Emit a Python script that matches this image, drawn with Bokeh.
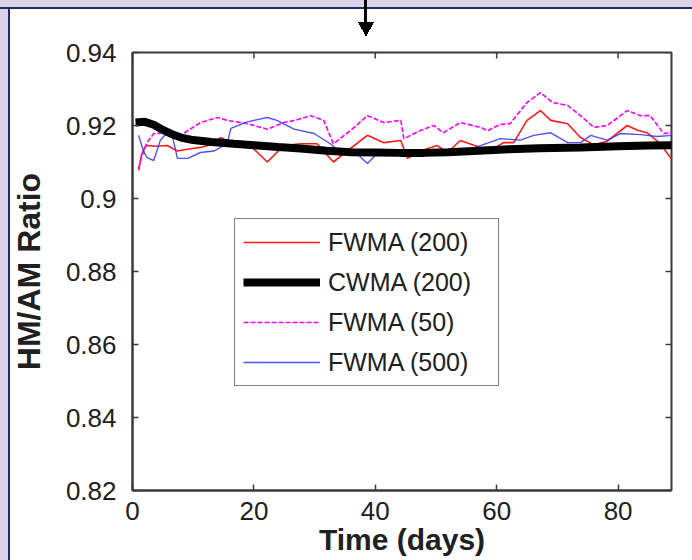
import math
from bokeh.plotting import figure
from bokeh.models import Range1d, FixedTicker, Legend, LegendItem
from bokeh.embed import file_html
from bokeh.resources import INLINE

# ---- data ----
cwma200_x = [0.5, 2, 3.5, 5, 6.5, 8, 10, 13, 16.7, 20, 24, 27.7, 32, 36, 40, 44,
             48, 52, 57, 62, 67, 73.8, 80, 85, 89]
cwma200_y = [0.9208, 0.921, 0.9202, 0.9188, 0.9176, 0.9167, 0.9160, 0.9155, 0.915,
             0.9146, 0.9141, 0.9137, 0.9131, 0.9127, 0.9126, 0.9125, 0.9125, 0.9127,
             0.9131, 0.9135, 0.9138, 0.914, 0.9143, 0.9145, 0.9146]

fwma200_x = [1, 1.5, 2.2, 4, 5.7, 7.4, 9, 11.2, 13, 14.5, 16.7, 19.4, 22.2, 24.9,
             27.7, 30.4, 33.1, 35.9, 38.7, 41.4, 44.2, 45.3, 47.4, 50.2, 51.9, 54,
             57.3, 58.5, 61.1, 62.8, 65, 67.2, 68.9, 71.7, 73.8, 76, 78.2, 81.5,
             83.2, 84.8, 87, 88.6, 89]
fwma200_y = [0.9077, 0.912, 0.9145, 0.9143, 0.9145, 0.913, 0.9135, 0.914, 0.9148,
             0.9167, 0.915, 0.9145, 0.910, 0.9145, 0.915, 0.915, 0.910, 0.9137,
             0.9173, 0.9153, 0.9159, 0.911, 0.913, 0.9145, 0.9126, 0.9159, 0.914,
             0.9126, 0.9153, 0.9153, 0.9214, 0.9241, 0.9214, 0.9205, 0.9167, 0.9147,
             0.9157, 0.920, 0.9187, 0.918, 0.915, 0.9112, 0.911]

fwma50_x = [1, 1.6, 2.4, 3.5, 5.7, 7.9, 9.5, 11.2, 14, 15.6, 18.9, 22.2, 24.9, 27,
            29.3, 31.5, 33.1, 35.9, 38.7, 41.4, 44.2, 44.7, 47.4, 49.6, 51.2, 54,
            57.3, 58.5, 60.6, 62.2, 65, 67.2, 69.2, 71.7, 73.8, 76, 78.2, 81.5,
            83.7, 85.3, 87.5, 89]
fwma50_y = [0.9082, 0.912, 0.9153, 0.9178, 0.918, 0.9173, 0.919, 0.9208, 0.9222,
            0.9214, 0.9205, 0.919, 0.9208, 0.9215, 0.9227, 0.9214, 0.915, 0.9186,
            0.9227, 0.9208, 0.9214, 0.9164, 0.9186, 0.92, 0.918, 0.9208, 0.9195,
            0.9186, 0.9203, 0.9205, 0.9263, 0.929, 0.9263, 0.9255, 0.9227, 0.9195,
            0.92, 0.9241, 0.9227, 0.9227, 0.9178, 0.918]

fwma500_x = [1, 1.8, 2.4, 3.5, 4.6, 6.3, 7.4, 9.1, 11.2, 13.4, 15.6, 16.2, 18.9,
             22.2, 23.8, 26.6, 29.9, 32.6, 34.3, 36.5, 38.7, 40.3, 42, 45.3, 50.7,
             54.6, 57.3, 60.6, 63.9, 66.1, 68.9, 71.7, 73.8, 75.5, 78.2, 80.4, 83.7,
             86.4, 89]
fwma500_y = [0.9173, 0.913, 0.9112, 0.9104, 0.916, 0.919, 0.911, 0.911, 0.9126,
             0.913, 0.915, 0.9192, 0.921, 0.9222, 0.9214, 0.919, 0.9178, 0.915,
             0.9126, 0.913, 0.9096, 0.9123, 0.913, 0.913, 0.9123, 0.913, 0.9145,
             0.9164, 0.916, 0.9173, 0.918, 0.9153, 0.9153, 0.9173, 0.916, 0.9178,
             0.9175, 0.917, 0.9173]

x_ticks = [0, 20, 40, 60, 80]
y_ticks = [0.82, 0.84, 0.86, 0.88, 0.9, 0.92, 0.94]
y_tick_labels = {0.82: "0.82", 0.84: "0.84", 0.86: "0.86", 0.88: "0.88",
                 0.9: "0.9", 0.92: "0.92", 0.94: "0.94"}
legend_labels = ["FWMA (200)", "CWMA (200)", "FWMA (50)", "FWMA (500)"]
x_label = "Time (days)"
y_label = "HM/AM Ratio"
x_min, x_max = 0, 88.8
y_min, y_max = 0.82, 0.94

FONT = "Liberation Sans"
TXT = "#202020"
FRAME = "#3a3a3a"
LAV = "#dbd5e7"
NAVY = "#1c2c6c"

p = figure(width=692, height=560, output_backend="svg", toolbar_location=None,
           x_range=Range1d(x_min, x_max), y_range=Range1d(y_min, y_max),
           frame_width=539, frame_height=438,
           min_border_left=132, min_border_top=52, min_border_right=21,
           min_border_bottom=70, background_fill_color="white",
           border_fill_color=None)

# page decoration behind the (transparent) canvas border: lavender margin,
# navy panel edge and the pointer arrow at the top
layers = [
    ("linear-gradient(to top right, transparent 50%, black 50%)", "357.5px 22px", "8px 15px"),
    ("linear-gradient(to top left, transparent 50%, black 50%)", "365.5px 22px", "8px 15px"),
    ("linear-gradient(black, black)", "364px 0px", "3px 23px"),
    (f"linear-gradient({NAVY}, {NAVY})", "0px 7px", "100% 2px"),
    (f"linear-gradient({LAV}, {LAV})", "0px 0px", "100% 7px"),
    (f"linear-gradient({NAVY}, {NAVY})", "8px 7px", "2px 100%"),
    (f"linear-gradient({LAV}, {LAV})", "0px 0px", "8px 100%"),
]
p.styles = {
    "background-image": ", ".join(l[0] for l in layers),
    "background-position": ", ".join(l[1] for l in layers),
    "background-size": ", ".join(l[2] for l in layers),
    "background-repeat": "no-repeat",
    "background-color": "white",
}

p.grid.visible = False
p.outline_line_color = FRAME
p.outline_line_width = 2

for ax in (p.xaxis[0], p.yaxis[0]):
    ax.major_tick_in = 6
    ax.major_tick_out = 0
    ax.minor_tick_line_color = None
    ax.axis_line_color = FRAME
    ax.axis_line_width = 2
    ax.major_tick_line_color = FRAME
    ax.major_tick_line_width = 1.5
    ax.major_label_text_font = FONT
    ax.major_label_text_font_size = "26px"
    ax.major_label_text_color = TXT
    ax.axis_label_text_font = FONT
    ax.axis_label_text_font_style = "bold"
    ax.axis_label_text_color = TXT

p.xaxis[0].axis_label_text_font_size = "30px"
p.yaxis[0].axis_label_text_font_size = "32px"
p.xaxis[0].ticker = FixedTicker(ticks=x_ticks)
p.yaxis[0].ticker = FixedTicker(ticks=y_ticks)
p.yaxis[0].major_label_overrides = y_tick_labels
p.xaxis[0].axis_label = x_label
p.yaxis[0].axis_label = y_label
p.xaxis[0].major_label_standoff = 11
p.xaxis[0].axis_label_standoff = 0
p.yaxis[0].major_label_standoff = 16
p.yaxis[0].axis_label_standoff = 16

# mirrored inward ticks on top and right edges
p.ray(x=x_ticks, y=[y_max] * len(x_ticks), length=6, length_units="screen",
      angle=-math.pi / 2, line_color=FRAME, line_width=1.5)
p.ray(x=[x_max] * len(y_ticks), y=y_ticks, length=6, length_units="screen",
      angle=math.pi, line_color=FRAME, line_width=1.5)

# series
r1 = p.line(fwma200_x, fwma200_y, line_color="#ff1a1a", line_width=1.6)
r3 = p.line(fwma50_x, fwma50_y, line_color="#ff00ff", line_width=1.6, line_dash="5 2")
r4 = p.line(fwma500_x, fwma500_y, line_color="#3333ff", line_width=1.4, line_alpha=0.85)
r2 = p.line(cwma200_x, cwma200_y, line_color="black", line_width=8)

legend = Legend(items=[LegendItem(label=legend_labels[0], renderers=[r1]),
                       LegendItem(label=legend_labels[1], renderers=[r2]),
                       LegendItem(label=legend_labels[2], renderers=[r3]),
                       LegendItem(label=legend_labels[3], renderers=[r4])],
                location=(102, 104), orientation="vertical",
                label_text_font=FONT, label_text_font_size="25px",
                label_text_color=TXT, label_standoff=8, glyph_width=77,
                glyph_height=30, label_height=30, label_width=162, spacing=10,
                padding=8, margin=0,
                border_line_color="black", border_line_width=1.5,
                background_fill_color="white", background_fill_alpha=1.0)
p.add_layout(legend, "center")

open("out.html", "w").write(file_html(p, INLINE))
